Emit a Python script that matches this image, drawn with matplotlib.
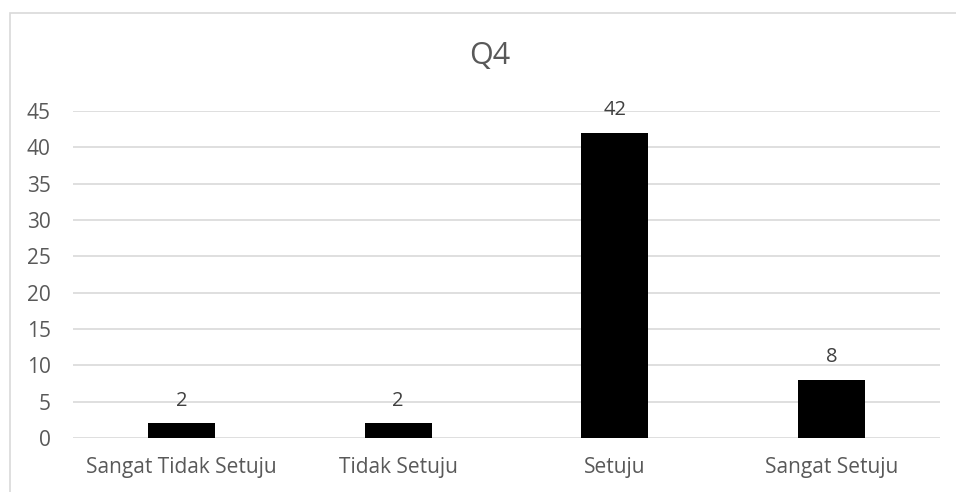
import matplotlib.pyplot as plt
from matplotlib.patches import Rectangle

categories = ['Sangat Tidak Setuju', 'Tidak Setuju', 'Setuju', 'Sangat Setuju']
values = [2, 2, 42, 8]
yticks = [0, 5, 10, 15, 20, 25, 30, 35, 40, 45]

plt.rcParams['font.family'] = ['Open Sans', 'DejaVu Sans']

W, H = 956, 492
fig = plt.figure(figsize=(W / 100, H / 100), dpi=100)

# chart border (right and bottom run off the image)
fig.patches.append(Rectangle((10 / W, -0.1), 1.0, 1.1 - 13 / H, transform=fig.transFigure,
                             fill=False, edgecolor='#d9d9d9', linewidth=1.2))

ax = fig.add_axes([73 / W, 1 - 438 / H, (940 - 73) / W, (438 - 111) / H])
x = range(len(categories))
bars = ax.bar(x, values, width=0.31, color='black', zorder=3)
ax.set_xlim(-0.5, len(categories) - 0.5)
ax.set_ylim(0, 45)
ax.set_yticks(yticks)
ax.set_xticks(list(x))
ax.set_xticklabels(categories)
ax.grid(axis='y', color='#d9d9d9', linewidth=1.2, zorder=0)
for s in ax.spines.values():
    s.set_visible(False)
ax.tick_params(length=0, labelsize=15, colors='#595959', pad=14)
ax.tick_params(axis='y', pad=16)

for b, v in zip(bars, values):
    ax.annotate(str(v), (b.get_x() + b.get_width() / 2, v), xytext=(0, 9),
                textcoords='offset points', ha='center', va='bottom',
                fontsize=14.5, color='#404040')

fig.text(490 / W, 1 - 56 / H, 'Q4', ha='center', va='center',
         fontsize=22, color='#595959')

fig.savefig('out.png', dpi=100)
